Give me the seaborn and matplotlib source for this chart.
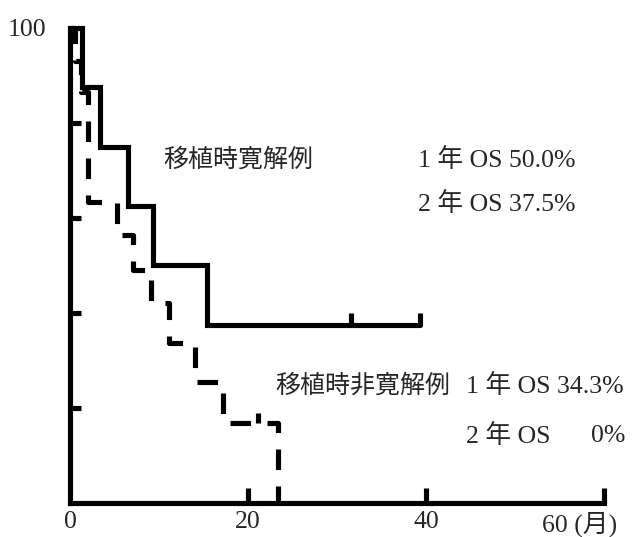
import matplotlib
matplotlib.use("Agg")
import matplotlib.pyplot as plt
import matplotlib.transforms as mtransforms
import pandas as pd
import seaborn as sns

# 移植時寛解例 (実線)
remission_months = [0, 1.35, 3.4, 6.5, 9.3, 15.4, 39.3]
remission_os = [100, 87.5, 75.0, 62.5, 50.0, 37.5, 37.5]
remission_censor_months = [31.5, 39.3]
remission_censor_os = [37.5, 37.5]

# 移植時非寛解例 (破線)
nonrem_months = [0, 0.6, 1.25, 2.0, 5.3, 7.1, 9.1, 11.1, 14.0, 17.2, 23.3]
nonrem_os = [100, 93.0, 86.5, 63.4, 56.4, 49.0, 42.0, 33.7, 25.5, 16.8, 0]
nonrem_censor_months = [21.1]
nonrem_censor_os = [16.8]

x_ticks = [0, 20, 40, 60]
x_tick_labels = ["0", "20", "40", "60 (月)"]
y_ticks = [20, 40, 60, 80, 100]
y_tick_labels = ["", "", "", "", "100"]

sns.set_style("ticks")
plt.rcParams["font.family"] = ["Liberation Serif", "Noto Sans CJK JP"]

fig = plt.figure(figsize=(6.32, 5.37), dpi=100)
ax = fig.add_axes([0.111, 0.0633, 0.845, 0.885])

LW = 3.7

rem = pd.DataFrame({"month": remission_months, "os": remission_os})
nonrem = pd.DataFrame({"month": nonrem_months, "os": nonrem_os})

sns.lineplot(data=rem, x="month", y="os", ax=ax, color="black", linewidth=LW,
             drawstyle="steps-post", estimator=None, sort=False, clip_on=False,
             solid_joinstyle="miter")
sns.lineplot(data=nonrem, x="month", y="os", ax=ax, color="black", linewidth=LW,
             linestyle=(0, (4, 3.2)), drawstyle="steps-post", estimator=None,
             sort=False, clip_on=False)

# 打ち切りの印
ax.vlines(remission_censor_months, remission_censor_os,
          [v + 2.5 for v in remission_censor_os], colors="black", linewidth=LW)
ax.vlines(nonrem_censor_months, nonrem_censor_os,
          [v + 2.2 for v in nonrem_censor_os], colors="black", linewidth=LW)

fs = 18.5
fs_cjk = 18

ax.set_xlim(0, 60)
ax.set_ylim(0, 100)
ax.set_xticks(x_ticks)
ax.set_xticklabels(x_tick_labels, fontsize=fs)
ax.set_yticks(y_ticks)
ax.set_yticklabels(y_tick_labels, fontsize=fs)
ax.set_xlabel("")
ax.set_ylabel("")

ax.tick_params(axis="x", direction="in", length=11, width=LW, pad=6, color="black")
ax.tick_params(axis="y", direction="in", length=8, width=LW, pad=17, color="black")
ax.yaxis.get_major_ticks()[-1].tick1line.set_visible(False)
ax.xaxis.get_major_ticks()[0].tick1line.set_visible(False)

# "60 (月)" は目盛りより少し左に寄っている
last = ax.get_xticklabels()[-1]
last.set_transform(last.get_transform() +
                   mtransforms.ScaledTranslation(-18 / 72, 0, fig.dpi_scale_trans))

for side in ["top", "right"]:
    ax.spines[side].set_visible(False)
for side in ["left", "bottom"]:
    ax.spines[side].set_linewidth(LW)
    ax.spines[side].set_color("black")

ax.text(10.45, 72.2, "移植時寛解例", fontsize=fs_cjk, va="center", ha="left")
ax.text(39.1, 72.2, "1 年 OS 50.0%", fontsize=fs, va="center", ha="left")
ax.text(39.1, 62.9, "2 年 OS 37.5%", fontsize=fs, va="center", ha="left")
ax.text(23.1, 24.6, "移植時非寛解例", fontsize=fs_cjk, va="center", ha="left")
ax.text(44.5, 24.6, "1 年 OS 34.3%", fontsize=fs, va="center", ha="left")
ax.text(44.5, 14.1, "2 年 OS", fontsize=fs, va="center", ha="left")
ax.text(62.4, 14.1, "0%", fontsize=fs, va="center", ha="right")

fig.savefig("out.png", dpi=100, facecolor="white")
